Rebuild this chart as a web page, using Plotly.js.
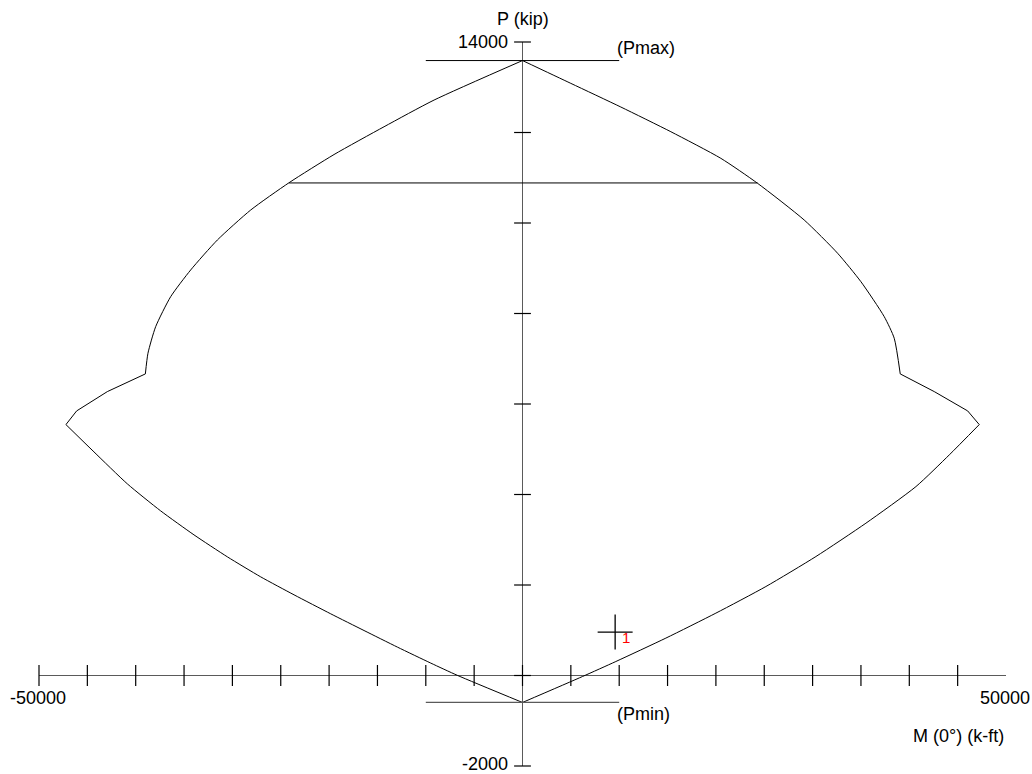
<!DOCTYPE html>
<html>
<head>
<meta charset="utf-8">
<script src="https://cdn.plot.ly/plotly-3.0.1.min.js"></script>
<style>
  html, body { margin: 0; padding: 0; background: #fff; }
  #graphDiv { width: 1032px; height: 774px; }
</style>
</head>
<body>
<div id="graphDiv"></div>
<script>
// interaction diagram, values (M in k-ft, P in kip)
// each branch is kept on its own so the smooth parts can be splined and the corners kept sharp
var upperLeftM = [0, -9145, -14317, -19490, -24145, -28107, -31552, -34314, -36383, -37935, -38732, -39001];
var upperLeftP = [13590, 12717, 12127, 11513, 10890, 10287, 9625, 8962, 8372, 7709, 7122, 6665];
var kinkLeftM = [-39001, -42932, -46107, -47215];
var kinkLeftP = [6665, 6274, 5847, 5545];
var lowerLeftM = [-47215, -44318, -40863, -37418, -33973, -30518, -27073, -23628, -19831, -16387,
  -12931, -9486, -6700, 0];
var lowerLeftP = [5545, 4942, 4235, 3638, 3108, 2622, 2180, 1783, 1363, 994,
  627, 274, 0, -596];
var lowerRightM = [0, 6207, 9652, 14824, 19997, 25169, 30342, 35514, 40687, 44132, 47235];
var lowerRightP = [-596, -22, 309, 826, 1378, 1966, 2629, 3366, 4175, 4875, 5545];
var kinkRightM = [47235, 46035, 42580, 39063];
var kinkRightP = [5545, 5847, 6274, 6665];
var upperRightM = [39063, 38442, 37408, 34997, 32587, 29131, 24311, 20514, 15342, 10169, 4997, 0];
var upperRightP = [6665, 7453, 7930, 8703, 9331, 10066, 10877, 11429, 12017, 12563, 13086, 13590];

var Pmax = 13590, Pmin = -596, P80 = 10885;
var capM = 10000;              // half length of the Pmax / Pmin bars
var cutM = [-24145, 24311];    // where 0.8 Pmax meets the curve

var loadM = [9580], loadP = [960], loadNames = ['1'];

var xTicks = [-50000, -45000, -40000, -35000, -30000, -25000, -20000, -15000, -10000, -5000,
  0, 5000, 10000, 15000, 20000, 25000, 30000, 35000, 40000, 45000];
var yTicks = [-2000, 0, 2000, 4000, 6000, 8000, 10000, 12000, 14000];

function branch(xs, ys, smooth) {
  return {
    x: xs, y: ys,
    mode: 'lines',
    line: smooth ? {color: '#000', width: 1, shape: 'spline', smoothing: 0.6} : {color: '#000', width: 1},
    hoverinfo: 'skip'
  };
}

function drawGraph() {
  var font = 'Liberation Sans, Arial, sans-serif';
  var black = '#000';
  var axisCol = '#5a5a5a';

  var pmaxLine = {
    x: [-capM, capM], y: [Pmax, Pmax],
    mode: 'lines', line: {color: black, width: 1}, hoverinfo: 'skip'
  };
  var pminLine = {
    x: [-capM, capM], y: [Pmin, Pmin],
    mode: 'lines', line: {color: axisCol, width: 1.3}, hoverinfo: 'skip'
  };
  var p80Line = {
    x: cutM, y: [P80, P80],
    mode: 'lines', line: {color: black, width: 1}, hoverinfo: 'skip'
  };
  var xTickMarks = {
    x: xTicks, y: xTicks.map(function () { return 0; }),
    mode: 'markers', cliponaxis: false, hoverinfo: 'skip',
    marker: {symbol: 'line-ns', size: 15, line: {color: black, width: 1.2}}
  };
  var yTickMarks = {
    x: yTicks.map(function () { return 0; }), y: yTicks,
    mode: 'markers', cliponaxis: false, hoverinfo: 'skip',
    marker: {symbol: 'line-ew', size: 12, line: {color: black, width: 1.2}}
  };
  var loads = {
    x: loadM, y: loadP,
    mode: 'markers', cliponaxis: false, hoverinfo: 'skip',
    marker: {symbol: 'cross-thin', size: 25, line: {color: black, width: 1.3}}
  };

  var txt = function (x, y, s, xa, opts) {
    var a = {
      xref: 'x', yref: 'y', x: x, y: y, text: s, showarrow: false,
      xanchor: xa, yanchor: 'middle',
      font: {family: font, size: 18, color: black}
    };
    for (var k in opts) a[k] = opts[k];
    return a;
  };

  var annotations = [
    txt(0, 14000, 'P (kip)', 'center', {yshift: 23}),
    txt(0, 14000, '14000', 'right', {xshift: -13}),
    txt(capM, Pmax, '(Pmax)', 'left', {yshift: 13, xshift: -4}),
    txt(capM, Pmin, '(Pmin)', 'left', {yshift: -12, xshift: -4}),
    txt(0, -2000, '-2000', 'right', {xshift: -13, yshift: 2}),
    txt(-50000, 0, '-50000', 'center', {yshift: -22, xshift: -1}),
    txt(50000, 0, '50000', 'center', {yshift: -22, xshift: -1}),
    txt(50000, 0, 'M (0°) (k-ft)', 'right', {yshift: -60})
  ];
  for (var i = 0; i < loadNames.length; i++) {
    annotations.push(txt(loadM[i], loadP[i], loadNames[i], 'left',
      {xshift: 5, yshift: -5, font: {family: font, size: 15, color: '#ff0000'}}));
  }

  var layout = {
    width: 1032, height: 774,
    margin: {l: 39, r: 26, t: 42, b: 8},
    paper_bgcolor: '#fff', plot_bgcolor: '#fff',
    showlegend: false,
    hovermode: false,
    xaxis: {
      range: [-50000, 50000], showgrid: false, showline: false, showticklabels: false,
      ticks: '', zeroline: true, zerolinecolor: axisCol, zerolinewidth: 1.5, fixedrange: true
    },
    yaxis: {
      range: [-2000, 14000], showgrid: false, showline: false, showticklabels: false,
      ticks: '', zeroline: true, zerolinecolor: axisCol, zerolinewidth: 1.5, fixedrange: true
    },
    annotations: annotations
  };

  var data = [
    branch(upperLeftM, upperLeftP, true),
    branch(kinkLeftM, kinkLeftP, false),
    branch(lowerLeftM, lowerLeftP, true),
    branch(lowerRightM, lowerRightP, true),
    branch(kinkRightM, kinkRightP, false),
    branch(upperRightM, upperRightP, true),
    pmaxLine, pminLine, p80Line, xTickMarks, yTickMarks, loads
  ];
  Plotly.newPlot('graphDiv', data, layout, {staticPlot: true, displayModeBar: false});
}

document.addEventListener('DOMContentLoaded', drawGraph, false);
</script>
</body>
</html>
